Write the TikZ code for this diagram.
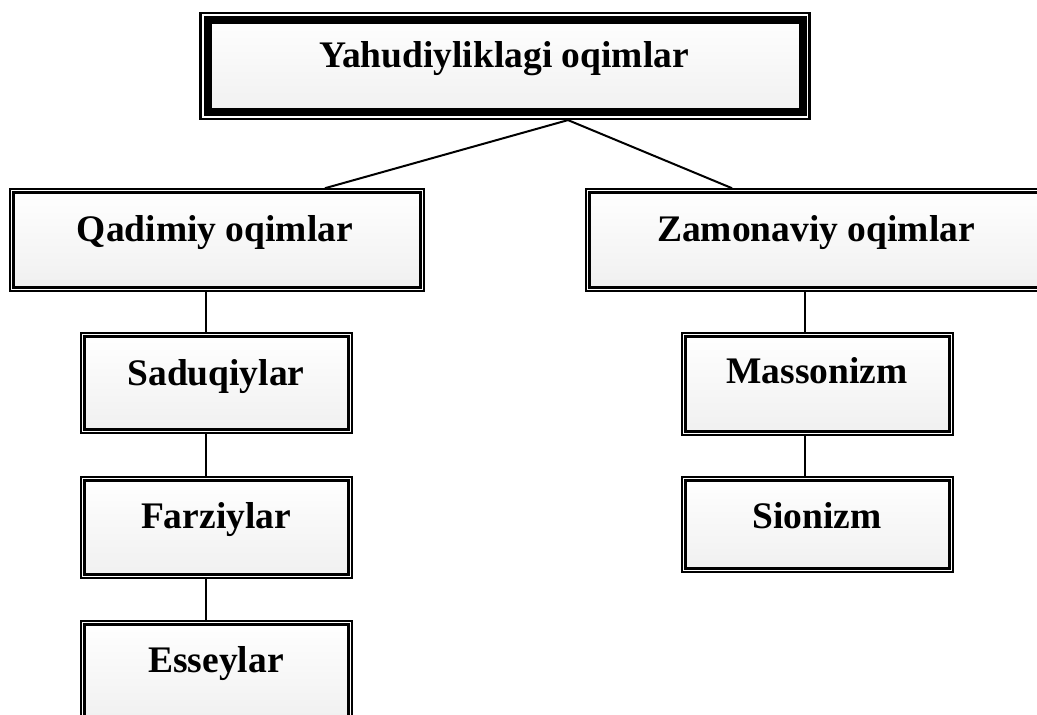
\documentclass[tikz,border=0pt]{standalone}
\usepackage{fontspec}
\setmainfont{Liberation Serif}
\begin{document}
\begin{tikzpicture}[x=1pt,y=-1pt,
  box/.style={draw, line width=1.6pt, fill=white, inner sep=0pt, minimum width=#1,
    path picture={\draw[line width=3pt, top color=white, bottom color=black!6]
      ([shift={(3.8,3.8)}]path picture bounding box.north west) rectangle
      ([shift={(-3.8,-3.8)}]path picture bounding box.south east);}},
  topbox/.style={draw, line width=2.2pt, fill=white, inner sep=0pt,
    path picture={\draw[line width=8pt, top color=white, bottom color=black!6]
      ([shift={(7,7)}]path picture bounding box.north west) rectangle
      ([shift={(-7,-7)}]path picture bounding box.south east);}},
  lbl/.style={anchor=base, inner sep=0pt, font=\bfseries\fontsize{37.5}{40}\selectfont},
  conn/.style={line width=2pt}]
\useasboundingbox (0,0) rectangle (1037,715);

\node[topbox, minimum width=609pt, minimum height=106pt] (top) at (505,66) {};
\node[box=414pt, minimum height=102pt] (qad) at (217,240) {};
\node[box=463pt, minimum height=102pt] (zam) at (817.5,240) {};
\node[box=271pt, minimum height=100pt] (sad) at (216.5,383) {};
\node[box=271pt, minimum height=101pt] (far) at (216.5,527.5) {};
\node[box=271pt, minimum height=104pt] (ess) at (216.5,673) {};
\node[box=271pt, minimum height=102pt] (mas) at (817.5,384) {};
\node[box=271pt, minimum height=95pt] (sio) at (817.5,524.5) {};

\node[lbl] (topt) at (504,67) {Yahudiyliklagi oqimlar};
\node[lbl] (qadt) at (215,241) {Qadimiy oqimlar};
\node[lbl] (zamt) at (816,241) {Zamonaviy oqimlar};
\node[lbl] (sadt) at (216,385) {Saduqiylar};
\node[lbl] (fart) at (216,528) {Farziylar};
\node[lbl] (esst) at (216,672) {Esseylar};
\node[lbl] (mast) at (817,383) {Massonizm};
\node[lbl] (siot) at (817,528) {Sionizm};

\draw[conn] ([xshift=63pt]top.south) -- ([xshift=108pt]qad.north);
\draw[conn] ([xshift=63pt]top.south) -- ([xshift=-85.5pt]zam.north);
\draw[conn] ([xshift=-11pt]qad.south) -- ([xshift=-10.5pt]sad.north);
\draw[conn] ([xshift=-10.5pt]sad.south) -- ([xshift=-10.5pt]far.north);
\draw[conn] ([xshift=-10.5pt]far.south) -- ([xshift=-10.5pt]ess.north);
\draw[conn] ([xshift=-12.5pt]zam.south) -- ([xshift=-12.5pt]mas.north);
\draw[conn] ([xshift=-12.5pt]mas.south) -- ([xshift=-12.5pt]sio.north);
\end{tikzpicture}
\end{document}
